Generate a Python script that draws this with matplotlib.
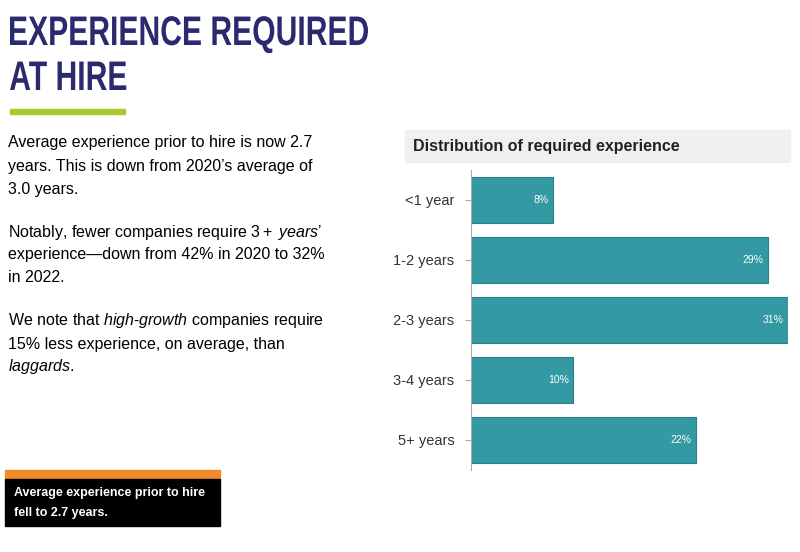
import matplotlib
matplotlib.use("Agg")
import matplotlib.pyplot as plt
from matplotlib.patches import Rectangle, PathPatch
from matplotlib.textpath import TextPath
from matplotlib.font_manager import FontProperties
from matplotlib.transforms import Affine2D, IdentityTransform

plt.rcParams["mathtext.fontset"] = "custom"
plt.rcParams["mathtext.it"] = "Liberation Sans:italic"
plt.rcParams["mathtext.rm"] = "Liberation Sans"

categories = ["<1 year", "1-2 years", "2-3 years", "3-4 years", "5+ years"]
shares = [8, 29, 31, 10, 22]

fig = plt.figure(figsize=(8, 5.52), dpi=100)
W, H = 800, 552

def fx(px):
    return px / W

def fy(py):
    return 1 - py / H

# condensed title, drawn as text paths squeezed horizontally
tprop = FontProperties(family="Liberation Sans", weight="bold")
line1 = TextPath((0, 0), "EXPERIENCE REQUIRED", size=50, prop=tprop)
ext = line1.get_extents()
sx = 358 / ext.width
sy = 37 / ext.height
for txt, top in [("EXPERIENCE REQUIRED", 8), ("AT HIRE", 53)]:
    p = TextPath((0, 0), txt, size=50, prop=tprop)
    tr = Affine2D().scale(sx, sy).translate(10 - p.get_extents().x0 * sx, H - top - 37)
    fig.add_artist(PathPatch(tr.transform_path(p), facecolor="#2b2a6e", edgecolor="none",
                             transform=IdentityTransform()))
fig.add_artist(Rectangle((fx(10), fy(114)), fx(115), 5 / H, color="#a6c92c", transform=fig.transFigure))

body = [
    ("Average experience prior to hire is now 2.7", 143),
    ("years. This is down from 2020\u2019s average of", 166),
    ("3.0 years.", 189),
    ("Notably, fewer companies require $\\it{3+\\ years\u2019}$", 232),
    ("experience\u2014down from 42% in 2020 to 32%", 255),
    ("in 2022.", 278),
    ("We note that $\\it{high}$-$\\it{growth}$ companies require", 321),
    ("15% less experience, on average, than", 344),
    ("$\\it{laggards}$.", 367),
]
for s, y in body:
    fig.text(fx(8), fy(y), s, family="Liberation Sans", fontsize=11.5, color="black", va="center")

# callout box
fig.add_artist(Rectangle((fx(5), fy(479)), fx(215), 9 / H, color="#f28c28", transform=fig.transFigure))
fig.add_artist(Rectangle((fx(5), fy(526)), fx(215), 47 / H, color="black", transform=fig.transFigure))
fig.text(fx(14), fy(493), "Average experience prior to hire", family="Liberation Sans", fontsize=9,
         fontweight="bold", color="white", va="center")
fig.text(fx(14), fy(513), "fell to 2.7 years.", family="Liberation Sans", fontsize=9,
         fontweight="bold", color="white", va="center")

# chart header
fig.add_artist(Rectangle((fx(405), fy(162)), fx(385), 32 / H, color="#f0f0f0", transform=fig.transFigure))
fig.text(fx(413), fy(147), "Distribution of required experience", family="Liberation Sans",
         fontsize=11.5, fontweight="bold", color="#222222", va="center")

ax = fig.add_axes([fx(471), fy(470), fx(317), 300 / H])
ypos = range(len(categories))
bars = ax.barh(ypos, shares, height=0.76, color="#3399a3", edgecolor="#2a7f88", linewidth=0.8)
ax.set_xlim(0, 31)
ax.set_ylim(4.5, -0.5)
ax.set_yticks(list(ypos))
ax.set_yticklabels(categories, family="Liberation Sans", fontsize=10.5, color="#333333")
ax.set_xticks([])
for side in ["top", "right", "bottom"]:
    ax.spines[side].set_visible(False)
ax.spines["left"].set_color("#aaaaaa")
ax.tick_params(axis="y", length=4, color="#aaaaaa", pad=8)
for b, v in zip(bars, shares):
    ax.text(b.get_width() - 0.4, b.get_y() + b.get_height() / 2, f"{v}%", ha="right", va="center",
            color="white", fontsize=7.5, family="Liberation Sans")

fig.savefig("out.png", dpi=100)
